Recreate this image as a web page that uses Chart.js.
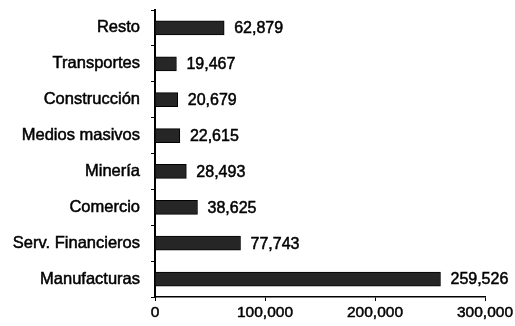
<!DOCTYPE html>
<html lang="es">
<head>
    <meta charset="UTF-8">
    <title>Producción por sector</title>
    <style>
        body {
            margin: 0;
            padding: 0;
            background-color: #fff;
        }
        .chart-box {
            width: 515px;
            height: 326px;
            position: relative;
        }
    </style>
</head>
<body>
    <div class="chart-box">
        <canvas id="sectorChart"></canvas>
    </div>
    <script src="https://cdn.jsdelivr.net/npm/chart.js@4/dist/chart.umd.min.js"></script>
    <script>
        const sectors = ['Resto', 'Transportes', 'Construcción', 'Medios masivos', 'Minería', 'Comercio', 'Serv. Financieros', 'Manufacturas'];
        const values = [62879, 19467, 20679, 22615, 28493, 38625, 77743, 259526];
        const xTicks = [0, 100000, 200000, 300000];

        const fmt = (v) => v.toLocaleString('en-US');
        const family = "'Liberation Sans', Arial, sans-serif";
        const font = { family: family, size: 16.5 };

        // Prints the value just past the end of each bar
        const valueLabels = {
            id: 'valueLabels',
            afterDatasetsDraw(chart) {
                const ctx = chart.ctx;
                const meta = chart.getDatasetMeta(0);
                ctx.save();
                ctx.font = `16px ${family}`;
                ctx.fillStyle = '#000';
                ctx.strokeStyle = '#000';
                ctx.lineWidth = 0.5;
                ctx.textAlign = 'left';
                ctx.textBaseline = 'middle';
                meta.data.forEach((bar, i) => {
                    ctx.fillText(fmt(values[i]), bar.x + 10, bar.y + 1);
                    ctx.strokeText(fmt(values[i]), bar.x + 10, bar.y + 1);
                });
                ctx.restore();
            }
        };

        new Chart(document.getElementById('sectorChart'), {
            type: 'bar',
            data: {
                labels: sectors,
                datasets: [{
                    data: values,
                    backgroundColor: '#262626',
                    borderColor: '#000',
                    borderWidth: 1,
                    barThickness: 14
                }]
            },
            options: {
                indexAxis: 'y',
                responsive: true,
                maintainAspectRatio: false,
                animation: false,
                layout: { padding: { top: 10, right: 30, bottom: 0, left: 0 } },
                plugins: {
                    legend: { display: false },
                    tooltip: { enabled: false }
                },
                scales: {
                    x: {
                        min: 0,
                        max: 300000,
                        afterBuildTicks: (scale) => { scale.ticks = xTicks.map(v => ({ value: v })); },
                        afterFit: (scale) => {
                            scale.height = 29;
                            scale.paddingLeft = 0;
                            scale.paddingRight = 0;
                        },
                        border: { color: '#000', width: 1.5 },
                        grid: { drawOnChartArea: false, color: '#000', tickLength: 4 },
                        ticks: {
                            color: '#000',
                            font: { family: family, size: 15.5 },
                            padding: 2,
                            maxRotation: 0,
                            textStrokeColor: '#000',
                            textStrokeWidth: 0.5,
                            callback: (v) => fmt(v)
                        }
                    },
                    y: {
                        afterFit: (scale) => {
                            scale.width = 155;
                            scale.paddingTop = 0;
                            scale.paddingBottom = 0;
                        },
                        border: { color: '#000', width: 2 },
                        grid: { drawOnChartArea: false, color: '#000', tickLength: 4 },
                        ticks: {
                            color: '#000',
                            font: font,
                            padding: 11,
                            textStrokeColor: '#000',
                            textStrokeWidth: 0.5
                        }
                    }
                }
            },
            plugins: [valueLabels]
        });
    </script>
</body>
</html>
